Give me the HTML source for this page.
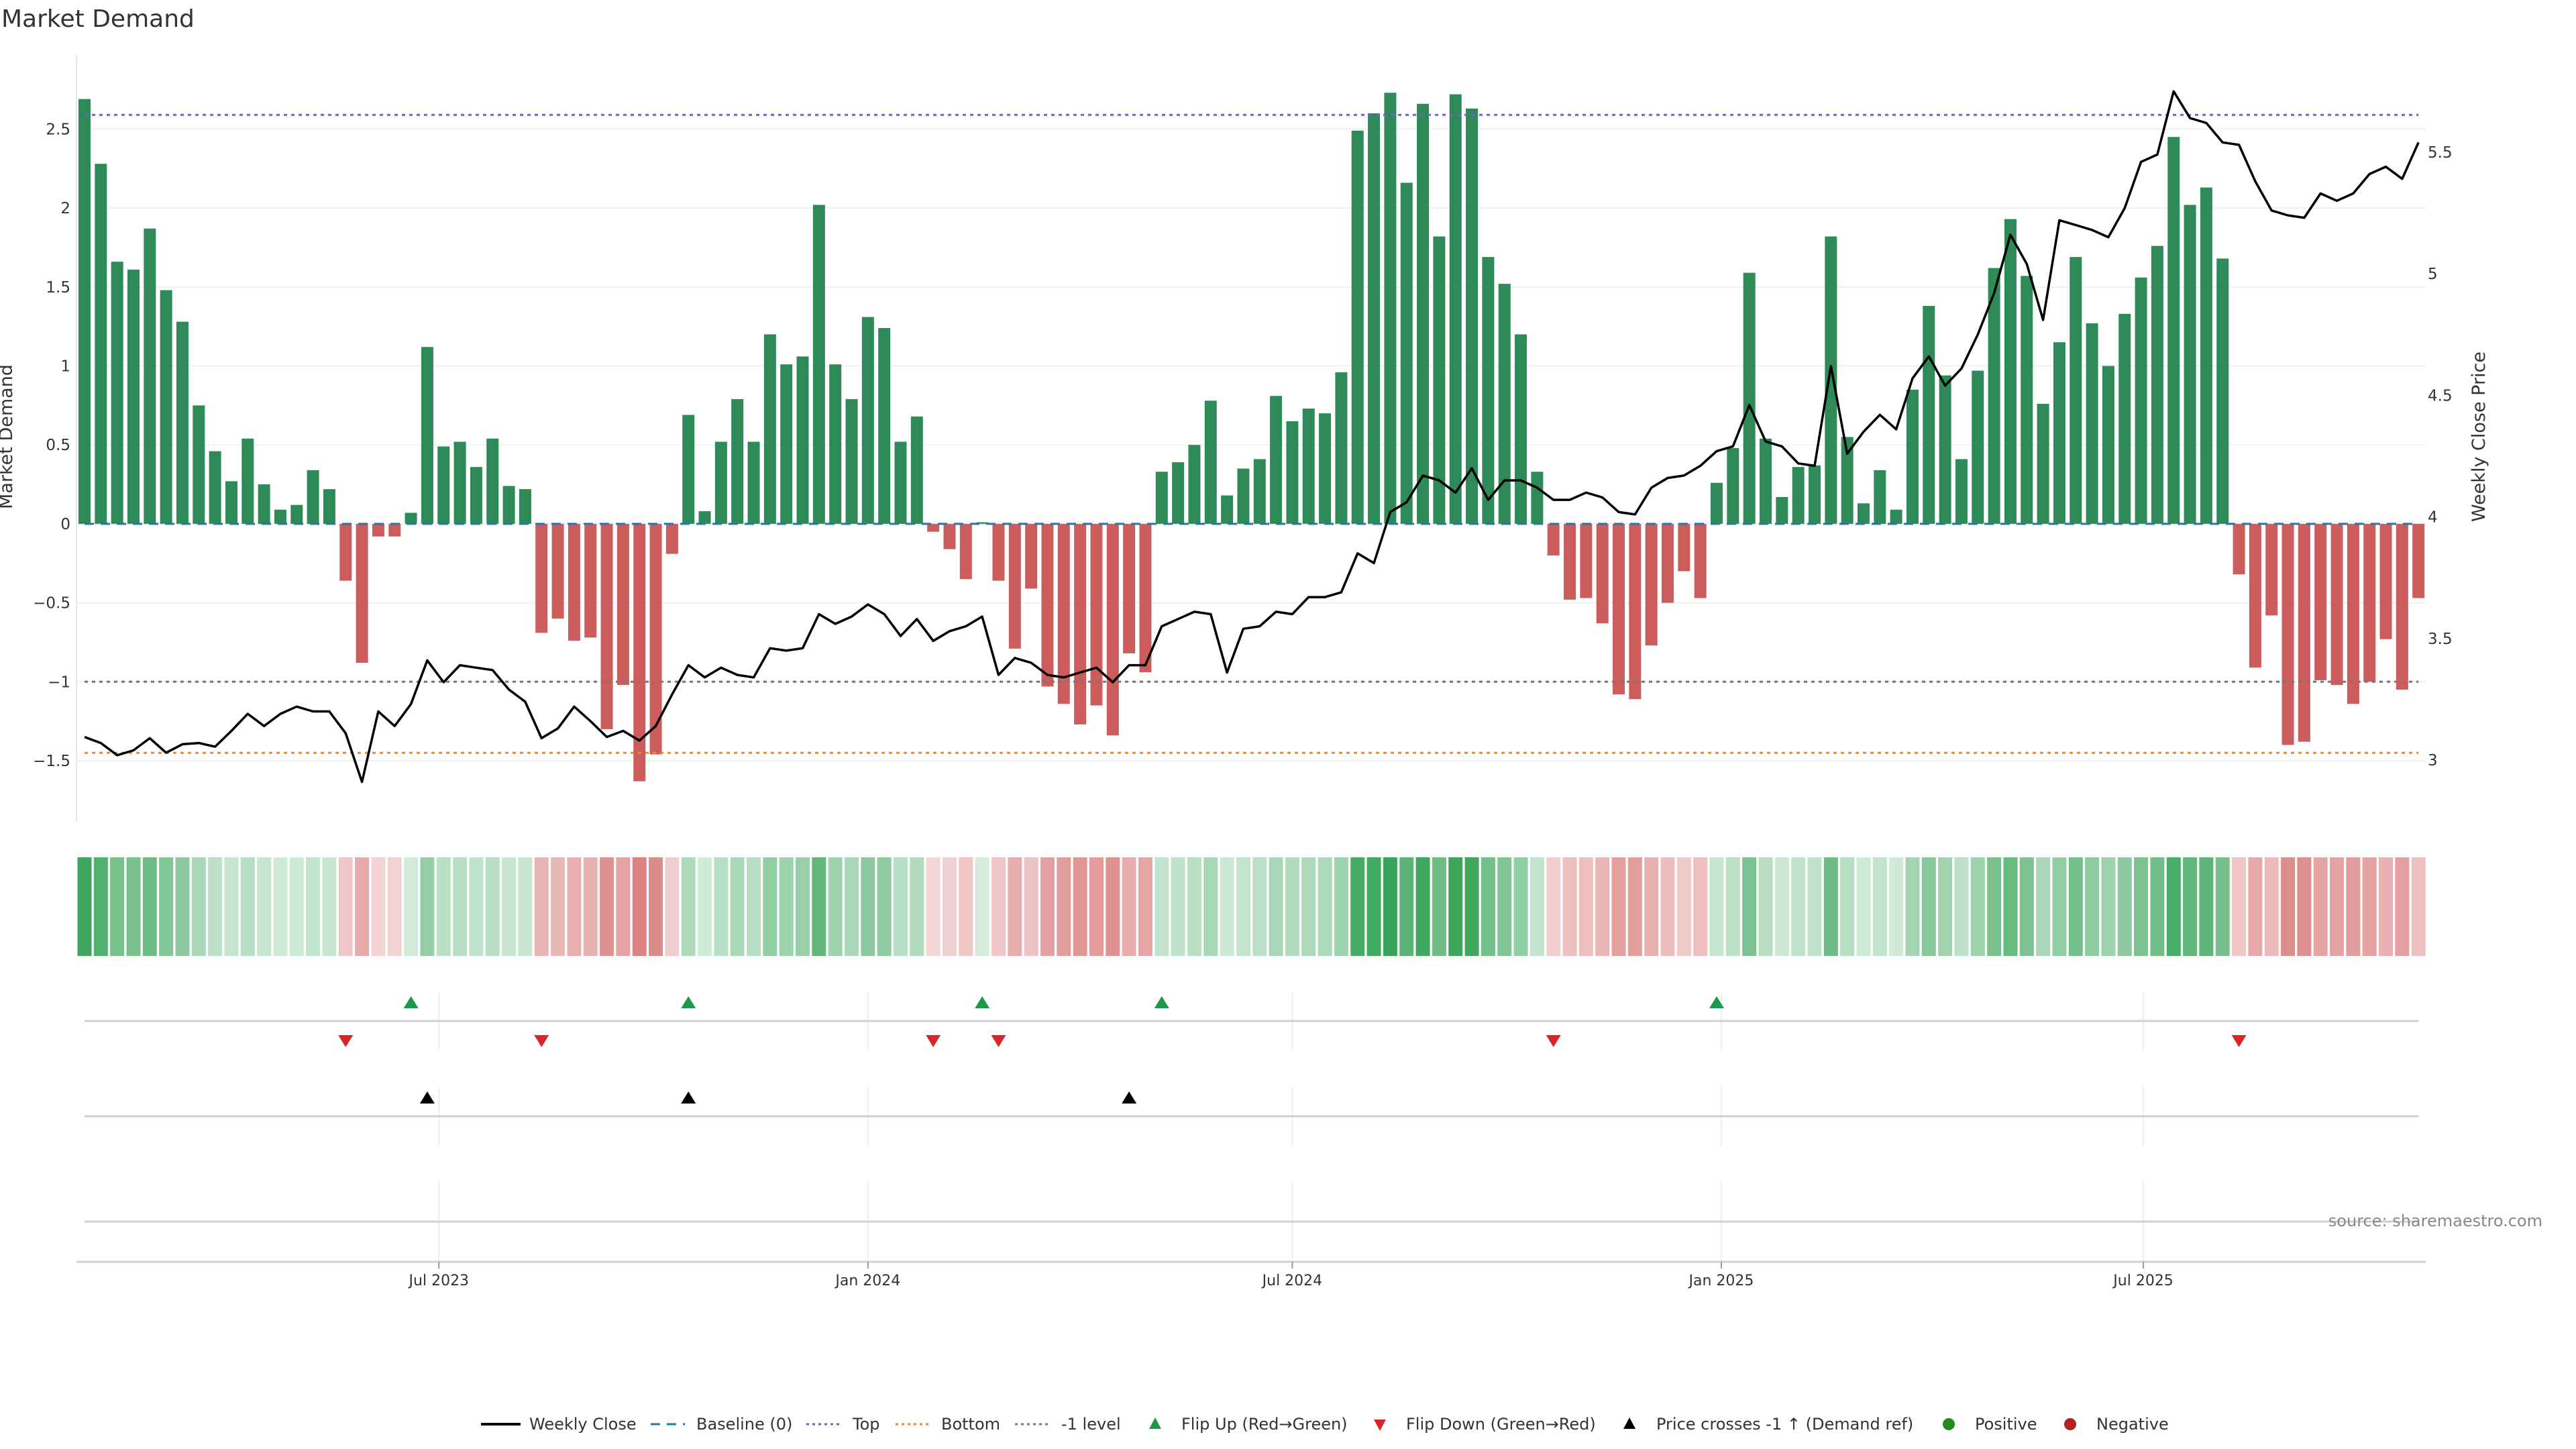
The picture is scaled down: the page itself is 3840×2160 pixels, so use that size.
<!DOCTYPE html>
<html><head><meta charset="utf-8"><style>
html,body{margin:0;padding:0;background:#fff;}
svg{display:block;font-family:"DejaVu Sans","Liberation Sans",sans-serif;}
</style></head><body>
<svg id="chart" width="3840" height="2160" viewBox="0 0 3840 2160" xmlns="http://www.w3.org/2000/svg">
<rect width="3840" height="2160" fill="#fff"/>
<text x="2" y="40" font-size="36" fill="#333">Market Demand</text>
<g id="grid"></g>
<g id="bars"></g>
<g id="refs"></g>
<g id="priceg"></g>
<g id="heat"></g>
<g id="events"></g>
<g id="xaxis"></g>
<text x="18" y="651" font-size="27" fill="#333" text-anchor="middle" transform="rotate(-90 18 651)">Market Demand</text>
<text x="3704" y="651" font-size="27" fill="#333" text-anchor="middle" transform="rotate(-90 3704 651)">Weekly Close Price</text>
<text x="3790" y="1828" font-size="24" fill="#888" text-anchor="end">source: sharemaestro.com</text>
<g id="legend" font-size="24" fill="#333">
  <g><line x1="717" y1="2123" x2="776" y2="2123" stroke="#000" stroke-width="4"/><text x="789" y="2131">Weekly Close</text></g>
  <g><line x1="970" y1="2123" x2="1021" y2="2123" stroke="#1f77b4" stroke-width="3" stroke-dasharray="14,10"/><text x="1038" y="2131">Baseline (0)</text></g>
  <g><line x1="1202" y1="2123" x2="1254" y2="2123" stroke="#6f63c8" stroke-width="3" stroke-dasharray="4,5"/><text x="1271" y="2131">Top</text></g>
  <g><line x1="1335" y1="2123" x2="1389" y2="2123" stroke="#ee8a1e" stroke-width="3" stroke-dasharray="4,5"/><text x="1403" y="2131">Bottom</text></g>
  <g><line x1="1513" y1="2123" x2="1567" y2="2123" stroke="#777" stroke-width="3" stroke-dasharray="4,5"/><text x="1582" y="2131">-1 level</text></g>
  <g><polygon points="1722,2113 1731,2130 1713,2130" fill="#1a9a4a"/><text x="1761" y="2131">Flip Up (Red→Green)</text></g>
  <g><polygon points="2048,2116 2066,2116 2057,2133" fill="#d62728"/><text x="2096" y="2131">Flip Down (Green→Red)</text></g>
  <g><polygon points="2429,2113 2438,2130 2420,2130" fill="#000"/><text x="2469" y="2131">Price crosses -1 ↑ (Demand ref)</text></g>
  <g><circle cx="2905" cy="2123" r="9" fill="#228b22"/><text x="2944" y="2131">Positive</text></g>
  <g><circle cx="3086" cy="2123" r="9" fill="#b22222"/><text x="3125" y="2131">Negative</text></g>
</g>
</svg>
<script>
const demand = [2.69,2.28,1.66,1.61,1.87,1.48,1.28,0.75,0.46,0.27,
0.54,0.25,0.09,0.12,0.34,0.22,-0.36,-0.88,-0.08,-0.08,
0.07,1.12,0.49,0.52,0.36,0.54,0.24,0.22,-0.69,-0.60,
-0.74,-0.72,-1.30,-1.02,-1.63,-1.46,-0.19,0.69,0.08,0.52,
0.79,0.52,1.20,1.01,1.06,2.02,1.01,0.79,1.31,1.24,
0.52,0.68,-0.05,-0.16,-0.35,0.01,-0.36,-0.79,-0.41,-1.03,
-1.14,-1.27,-1.15,-1.34,-0.82,-0.94,0.33,0.39,0.50,0.78,
0.18,0.35,0.41,0.81,0.65,0.73,0.70,0.96,2.49,2.60,
2.73,2.16,2.66,1.82,2.72,2.63,1.69,1.52,1.20,0.33,
-0.20,-0.48,-0.47,-0.63,-1.08,-1.11,-0.77,-0.50,-0.30,-0.47,
0.26,0.48,1.59,0.54,0.17,0.36,0.37,1.82,0.55,0.13,
0.34,0.09,0.85,1.38,0.94,0.41,0.97,1.62,1.93,1.57,
0.76,1.15,1.69,1.27,1.00,1.33,1.56,1.76,2.45,2.02,
2.13,1.68,-0.32,-0.91,-0.58,-1.40,-1.38,-0.99,-1.02,-1.14,
-1.00,-0.73,-1.05,-0.47];
const price = [3.095,3.07,3.02,3.04,3.09,3.03,3.065,3.07,3.055,3.12,
3.19,3.14,3.19,3.22,3.20,3.20,3.11,2.91,3.20,3.14,
3.23,3.41,3.32,3.39,3.38,3.37,3.29,3.24,3.09,3.13,
3.22,3.16,3.095,3.12,3.08,3.14,3.27,3.39,3.34,3.38,
3.35,3.34,3.46,3.45,3.46,3.60,3.56,3.59,3.64,3.60,
3.51,3.58,3.49,3.53,3.55,3.59,3.35,3.42,3.40,3.35,
3.34,3.36,3.38,3.32,3.39,3.39,3.55,3.58,3.61,3.60,
3.36,3.54,3.55,3.61,3.60,3.67,3.67,3.69,3.85,3.81,
4.02,4.06,4.17,4.15,4.10,4.20,4.07,4.15,4.15,4.12,
4.07,4.07,4.10,4.08,4.02,4.01,4.12,4.16,4.17,4.21,
4.27,4.29,4.46,4.31,4.29,4.22,4.21,4.62,4.26,4.35,
4.42,4.36,4.57,4.66,4.54,4.61,4.75,4.92,5.16,5.04,
4.81,5.22,5.20,5.18,5.15,5.27,5.46,5.49,5.75,5.64,
5.62,5.54,5.53,5.38,5.26,5.24,5.23,5.33,5.30,5.33,
5.41,5.44,5.39,5.54];
const leftTicks = [-1.5,-1,-0.5,0,0.5,1,1.5,2,2.5];
const leftTickLabels = ["−1.5","−1","−0.5","0","0.5","1","1.5","2","2.5"];
const rightTicks = [3,3.5,4,4.5,5,5.5];
const rightTickLabels = ["3","3.5","4","4.5","5","5.5"];
const xTickDays = [152,336,518,702,883];
const xTickLabels = ["Jul 2023","Jan 2024","Jul 2024","Jan 2025","Jul 2025"];
const topLevel = 2.59;
const bottomLevel = -1.45;
const minusLevel = -1;
const flipUp = [20,37,55,66,100];
const flipDown = [16,28,52,56,90,132];
const priceCross = [21,37,64];

const NS = "http://www.w3.org/2000/svg";
function mk(tag, attrs, parent){const e=document.createElementNS(NS,tag);for(const k in attrs)e.setAttribute(k,attrs[k]);parent.appendChild(e);return e;}
const X0=126, PITCH=24.33, PL=114, PR=3616;
function xIdx(i){return X0+i*PITCH;}
function xDay(d){return X0+d*PITCH/7;}
function yD(v){return 780.9-v*235.4;}
function yP(p){return 1133-(p-3)*362.5;}

const grid=document.getElementById('grid');
const ax=mk('line',{x1:PL,y1:81,x2:PL,y2:1225,stroke:'#e6e8ec','stroke-width':2},grid);


leftTicks.forEach((t,i)=>{
  const g=mk('line',{x1:PL,y1:yD(t),x2:PR,y2:yD(t),stroke:'#eef0f4','stroke-width':2},grid);
  
  
  const tx=mk('text',{x:105,y:yD(t)+8,'font-size':23,fill:'#333','text-anchor':'end'},grid);
  tx.textContent=leftTickLabels[i];
  
  
});
rightTicks.forEach((t,i)=>{
  const tx=mk('text',{x:3619,y:yP(t)+8,'font-size':23,fill:'#333'},grid);
  tx.textContent=rightTickLabels[i];
  
  
});

const bars=document.getElementById('bars');
demand.forEach((v,i)=>{
  const y=Math.min(yD(v),yD(0)), h=Math.abs(yD(v)-yD(0));
  const r=mk('rect',{x:xIdx(i)-9,y:y,width:18,height:Math.max(h,0.5),fill:v>=0?'#2e8b57':'#cd5c5c'},bars);
  
  
});

const refs=document.getElementById('refs');
const xs=xIdx(0), xe=xIdx(demand.length-1);
[[0,'#1f77b4','14,10','baseline-line'],[topLevel,'#6f63c8','5,6','top-line'],[bottomLevel,'#ee8a1e','5,6','bottom-line'],[minusLevel,'#777','5,6','minus1-level-line']].forEach(a=>{
  const l=mk('line',{x1:xs,y1:yD(a[0]),x2:xe,y2:yD(a[0]),stroke:a[1],'stroke-width':3,'stroke-dasharray':a[2]},refs);
  
  
});

const pg=document.getElementById('priceg');
const pts=price.map((p,i)=>xIdx(i).toFixed(1)+','+yP(p).toFixed(1)).join(' ');
const pl=mk('polyline',{points:pts,fill:'none',stroke:'#000','stroke-width':3.5,'stroke-linejoin':'round'},pg);



const heat=document.getElementById('heat');
demand.forEach((v,i)=>{
  const a=0.2+0.75*Math.min(Math.abs(v),2.75)/2.75;
  const col=v>=0?`rgba(46,160,80,${a.toFixed(3)})`:`rgba(200,60,60,${a.toFixed(3)})`;
  const c=mk('rect',{x:xIdx(i)-10.5,y:1278,width:21,height:147,fill:col},heat);
  
  
});

const ev=document.getElementById('events');
xTickDays.forEach(d=>{
  [[1479,1565],[1620,1708],[1761,1880]].forEach(r=>{
    const g=mk('line',{x1:xDay(d),y1:r[0],x2:xDay(d),y2:r[1],stroke:'#eceef2','stroke-width':2},ev);
    
    
  });
});
[1522,1664,1821].forEach(y=>{
  const l=mk('line',{x1:xs,y1:y,x2:xe,y2:y,stroke:'#d0d0d0','stroke-width':3},ev);
  
  
});
flipUp.forEach(i=>{
  const x=xIdx(i);
  const t=mk('polygon',{points:`${x},1485 ${x+11},1503 ${x-11},1503`,fill:'#1a9a4a'},ev);
  
  
});
flipDown.forEach(i=>{
  const x=xIdx(i);
  const t=mk('polygon',{points:`${x-11},1543 ${x+11},1543 ${x},1561`,fill:'#d62728'},ev);
  
  
});
priceCross.forEach(i=>{
  const x=xIdx(i);
  const t=mk('polygon',{points:`${x},1627 ${x+11},1645 ${x-11},1645`,fill:'#000'},ev);
  
  
});

const xa=document.getElementById('xaxis');
const bl=mk('line',{x1:PL,y1:1881,x2:PR,y2:1881,stroke:'#d0d0d0','stroke-width':3},xa);


xTickDays.forEach((d,i)=>{
  const tk=mk('line',{x1:xDay(d),y1:1881,x2:xDay(d),y2:1891,stroke:'#999','stroke-width':2},xa);
  
  
  const tx=mk('text',{x:xDay(d),y:1916,'font-size':22,fill:'#333','text-anchor':'middle'},xa);
  tx.textContent=xTickLabels[i];
  
  
});
</script>
</body></html>
